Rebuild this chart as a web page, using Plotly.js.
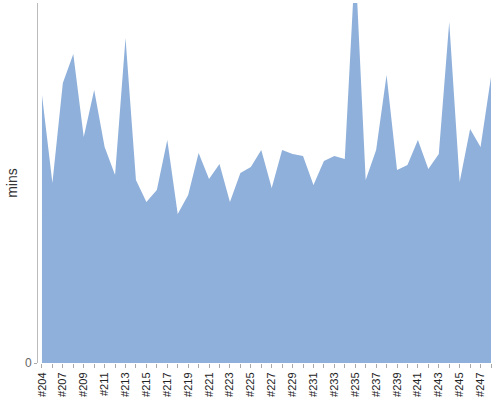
<!DOCTYPE html>
<html>
<head>
<meta charset="utf-8">
<script src="https://cdn.plot.ly/plotly-3.0.1.min.js"></script>
<style>
  html, body { margin: 0; padding: 0; background: #fff; }
  #chart { width: 500px; height: 400px; }
</style>
</head>
<body>
<div id="chart"></div>
<script>
// build numbers, one build (#205 is not in the data)
var builds = ['#204', '#206', '#207', '#208', '#209', '#210', '#211', '#212', '#213', '#214',
  '#215', '#216', '#217', '#218', '#219', '#220', '#221', '#222', '#223', '#224',
  '#225', '#226', '#227', '#228', '#229', '#230', '#231', '#232', '#233', '#234',
  '#235', '#236', '#237', '#238', '#239', '#240', '#241', '#242', '#243', '#244',
  '#245', '#246', '#247', '#248'];

// duration of each build, in minutes
var mins = [26.8, 18.0, 28.0, 30.9, 22.6, 27.3, 21.6, 18.8, 32.5, 18.3,
  16.1, 17.3, 22.3, 14.9, 16.8, 21.0, 18.4, 19.9, 16.1, 19.0,
  19.6, 21.3, 17.5, 21.3, 20.9, 20.7, 17.8, 20.2, 20.7, 20.4,
  40.3, 18.3, 21.3, 28.8, 19.3, 19.8, 22.3, 19.4, 20.9, 34.1,
  18.1, 23.4, 21.6, 28.6];

// only every other build gets a label
var tickText = builds.map(function (b, i) { return i % 2 === 0 ? b : ''; });

var data = [{
  type: 'scatter',
  mode: 'lines',
  x: builds,
  y: mins,
  fill: 'tozeroy',
  fillcolor: 'rgb(143,176,218)',
  line: {width: 0, color: 'rgb(143,176,218)'},
  hoverinfo: 'x+y'
}];

var layout = {
  width: 500,
  height: 400,
  margin: {l: 38, r: 9, t: 3, b: 37},
  showlegend: false,
  paper_bgcolor: '#fff',
  plot_bgcolor: '#fff',
  font: {family: 'Liberation Sans, Arial, sans-serif', size: 11, color: '#222'},
  xaxis: {
    type: 'category',
    range: [-0.38, 43],
    tickvals: builds,
    ticktext: tickText,
    tickangle: -90,
    ticks: 'outside',
    ticklen: 4,
    tickcolor: '#aaa',
    tickfont: {size: 11, color: '#222'},
    showgrid: false,
    zeroline: false,
    showline: false
  },
  yaxis: {
    range: [0, 36],
    tickvals: [0],
    ticktext: ['0'],
    ticks: 'outside',
    ticklen: 3,
    tickcolor: '#aaa',
    tickfont: {size: 12, color: '#666'},
    showgrid: false,
    zeroline: false,
    showline: true,
    linecolor: '#bbb',
    linewidth: 1,
    title: {text: 'mins', font: {size: 14, color: '#333'}, standoff: 4}
  }
};

Plotly.newPlot('chart', data, layout, {displayModeBar: false, staticPlot: true});
</script>
</body>
</html>
